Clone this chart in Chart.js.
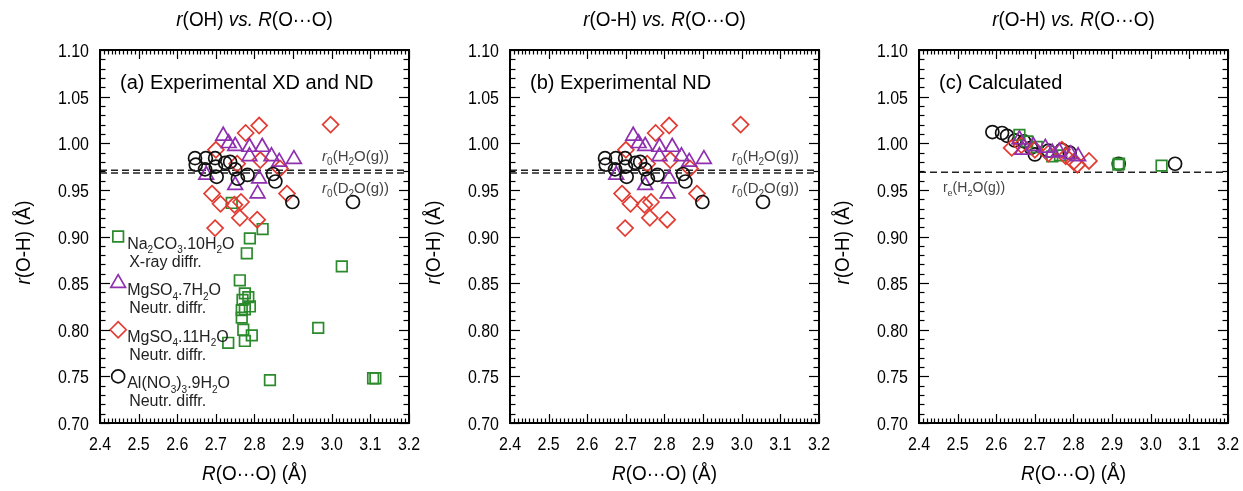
<!DOCTYPE html>
<html><head><meta charset="utf-8">
<script src="https://cdn.jsdelivr.net/npm/chart.js@4.4.0/dist/chart.umd.min.js"></script>
<style>
html,body{margin:0;padding:0;background:#fff;}
#wrap{position:relative;width:1243px;height:491px;overflow:hidden;background:#fff;}
canvas{position:absolute;top:0;}
</style></head><body>
<div id="wrap">
<canvas id="ca" width="425" height="491" style="left:0px"></canvas>
<canvas id="cb" width="425" height="491" style="left:410px"></canvas>
<canvas id="cc" width="424" height="491" style="left:819px"></canvas>
</div>
<script>
// ---------- data ----------
const xTicks = [2.4, 2.5, 2.6, 2.7, 2.8, 2.9, 3.0, 3.1, 3.2];
const yTicks = [0.70, 0.75, 0.80, 0.85, 0.90, 0.95, 1.00, 1.05, 1.10];

// Experimental: Na2CO3.10H2O (X-ray)
const naX = [2.741, 2.821, 2.788, 2.780, 3.026, 2.762, 2.775, 2.784, 2.769, 2.767, 2.788, 2.775, 2.767, 2.771, 2.793, 2.732, 2.775, 2.965, 2.840, 3.107, 3.113];
const naY = [0.936, 0.908, 0.898, 0.882, 0.868, 0.853, 0.839, 0.835, 0.832, 0.821, 0.825, 0.822, 0.813, 0.800, 0.794, 0.786, 0.788, 0.802, 0.746, 0.748, 0.748];
// Experimental: MgSO4.7H2O (neutron)
const mg7X = [2.719, 2.733, 2.750, 2.787, 2.820, 2.787, 2.844, 2.864, 2.902, 2.675, 2.750, 2.812, 2.808];
const mg7Y = [1.008, 1.000, 0.997, 0.996, 0.996, 0.986, 0.986, 0.980, 0.983, 0.966, 0.955, 0.962, 0.946];
// Experimental: MgSO4.11H2O (neutron)
const mg11X = [2.812, 2.777, 2.997, 2.700, 2.815, 2.866, 2.755, 2.690, 2.712, 2.748, 2.765, 2.884, 2.762, 2.807, 2.698];
const mg11Y = [1.019, 1.011, 1.020, 0.993, 0.982, 0.973, 0.978, 0.946, 0.935, 0.934, 0.937, 0.946, 0.920, 0.918, 0.909];
// Experimental: Al(NO3)3.9H2O (neutron)
const alX = [2.646, 2.674, 2.698, 2.737, 2.648, 2.672, 2.700, 2.724, 2.702, 2.750, 2.757, 2.782, 2.848, 2.854, 2.898, 3.055];
const alY = [0.984, 0.984, 0.984, 0.980, 0.977, 0.972, 0.975, 0.979, 0.964, 0.972, 0.962, 0.966, 0.967, 0.959, 0.937, 0.937];

// Calculated
const cNaX = [2.660, 2.680, 2.705, 2.745, 2.765, 2.916, 2.918, 3.028];
const cNaY = [1.009, 1.002, 0.996, 0.986, 0.987, 0.977, 0.978, 0.976];
const cMg7X = [2.660, 2.668, 2.696, 2.727, 2.745, 2.763, 2.793, 2.812];
const cMg7Y = [1.004, 0.993, 0.997, 0.995, 0.990, 0.991, 0.988, 0.986];
const cMg11X = [2.640, 2.665, 2.700, 2.735, 2.770, 2.780, 2.800, 2.810, 2.840];
const cMg11Y = [0.995, 0.998, 0.993, 0.989, 0.993, 0.986, 0.980, 0.977, 0.981];
const cAlX = [2.590, 2.615, 2.628, 2.648, 2.672, 2.690, 2.700, 2.735, 2.770, 2.790, 2.917, 3.063];
const cAlY = [1.012, 1.011, 1.008, 1.003, 1.002, 0.995, 0.988, 0.992, 0.993, 0.990, 0.978, 0.978];

// legend markers inside panel (a)
const legendX = [2.447];
const legendY = [0.90, 0.85, 0.80, 0.75];

// reference lines
const r0H2O = 0.971;
const r0D2O = 0.968;
const reH2O = 0.969;

// ---------- style ----------
const FF = "'Liberation Sans', Arial, sans-serif";
const GREEN = '#2b8a2b', PURPLE = '#8e2fb0', RED = '#e23b32', BLACK = '#111111';
Chart.defaults.font.family = FF;

function rich(ctx, segs, x, y, size, color, align, sx) {
  sx = sx || 1;
  const fonts = segs.map(([t, f]) => (f.includes('i') ? 'italic ' : '') + Math.round(f.includes('s') ? size * 0.65 : size) + 'px ' + FF);
  let w = 0; const ws = [];
  segs.forEach(([t], i) => { ctx.font = fonts[i]; const m = ctx.measureText(t).width; ws.push(m); w += m; });
  ctx.save();
  ctx.translate(x, y); ctx.scale(sx, 1);
  let cx = align === 'center' ? -w / 2 : align === 'right' ? -w : 0;
  ctx.fillStyle = color; ctx.textBaseline = 'alphabetic'; ctx.textAlign = 'left';
  segs.forEach(([t, f], i) => { ctx.font = fonts[i]; ctx.fillText(t, cx, (f.includes('s') ? size * 0.28 : 0)); cx += ws[i]; });
  ctx.restore();
}

const TITLE_A = [['r', 'i'], ['(OH) ', ''], ['vs.', 'i'], [' ', ''], ['R', 'i'], ['(O\u00B7\u00B7\u00B7O)', '']];
const TITLE_B = [['r', 'i'], ['(O-H) ', ''], ['vs.', 'i'], [' ', ''], ['R', 'i'], ['(O\u00B7\u00B7\u00B7O)', '']];
const XT = [['R', 'i'], ['(O\u00B7\u00B7\u00B7O) (\u00C5)', '']];
const YT = [['r', 'i'], ['(O-H) (\u00C5)', '']];
const R0H = [['r', 'i'], ['0', 's'], ['(H', ''], ['2', 's'], ['O(g))', '']];
const R0D = [['r', 'i'], ['0', 's'], ['(D', ''], ['2', 's'], ['O(g))', '']];
const REH = [['r', ''], ['e', 's'], ['(H', ''], ['2', 's'], ['O(g))', '']];
const LEG = [
  [[['Na', ''], ['2', 's'], ['CO', ''], ['3', 's'], ['.10H', ''], ['2', 's'], ['O', '']], [['X-ray diffr.', '']]],
  [[['MgSO', ''], ['4', 's'], ['.7H', ''], ['2', 's'], ['O', '']], [['Neutr. diffr.', '']]],
  [[['MgSO', ''], ['4', 's'], ['.11H', ''], ['2', 's'], ['O', '']], [['Neutr. diffr.', '']]],
  [[['Al(NO', ''], ['3', 's'], [')', ''], ['3', 's'], ['.9H', ''], ['2', 's'], ['O', '']], [['Neutr. diffr.', '']]]
];

const deco = {
  id: 'deco',
  afterDraw(chart, args, o) {
    const { ctx, chartArea: a, scales: { x, y } } = chart;
    ctx.save();
    // inward ticks on all four sides
    ctx.strokeStyle = '#000'; ctx.lineWidth = 1.2;
    const seg = (x1, y1, x2, y2) => { ctx.beginPath(); ctx.moveTo(x1, y1); ctx.lineTo(x2, y2); ctx.stroke(); };
    const nx = Math.round((x.max - x.min) / 0.01);
    for (let i = 0; i <= nx; i++) {
      const px = Math.round(x.getPixelForValue(x.min + i * 0.01)) + 0.5;
      const L = i % 10 === 0 ? 9 : 4.5;
      seg(px, a.bottom, px, a.bottom - L); seg(px, a.top, px, a.top + L);
    }
    const ny = Math.round((y.max - y.min) / 0.01);
    for (let i = 0; i <= ny; i++) {
      const py = Math.round(y.getPixelForValue(y.min + i * 0.01)) + 0.5;
      const L = i % 5 === 0 ? 10 : 5.5;
      seg(a.left, py, a.left + L, py); seg(a.right, py, a.right - L, py);
    }
    ctx.lineWidth = 2;
    ctx.strokeRect(a.left, a.top, a.right - a.left, a.bottom - a.top);
    // tick labels (narrow, as in the reference)
    x.ticks.forEach(t => rich(ctx, [[Number(t.value).toFixed(1), '']], x.getPixelForValue(t.value), a.bottom + 27, 19, '#000', 'center', 0.84));
    y.ticks.forEach(t => rich(ctx, [[Number(t.value).toFixed(2), '']], a.left - 11, y.getPixelForValue(t.value) + 7, 19, '#000', 'right', 0.84));
    // titles
    const cxm = (a.left + a.right) / 2;
    rich(ctx, o.title, cxm, 26, 21, '#000', 'center', 0.9);
    rich(ctx, XT, cxm, 480, 21, '#000', 'center', 0.9);
    ctx.save(); ctx.translate(30, (a.top + a.bottom) / 2 + 6); ctx.rotate(-Math.PI / 2);
    rich(ctx, YT, 0, 0, 21, '#000', 'center', 0.9); ctx.restore();
    rich(ctx, [[o.label, '']], a.left + 20, 89, 20, '#000', 'left');
    // reference line labels
    (o.lineLabels || []).forEach(l => {
      rich(ctx, l.segs, x.getPixelForValue(l.x), y.getPixelForValue(l.y) + l.dy, l.size, '#444', 'left');
    });
    // in-plot legend text
    if (o.legend) {
      const lx = x.getPixelForValue(legendX[0]);
      LEG.forEach((lines, i) => {
        const py = y.getPixelForValue(legendY[i]);
        rich(ctx, lines[0], lx + 9, py + 12, 16, '#222', 'left');
        rich(ctx, lines[1], lx + 11, py + 30, 16, '#222', 'left');
      });
    }
    ctx.restore();
  }
};

function pts(xs, ys) { return xs.map((v, i) => ({ x: v, y: ys[i] })); }
function mk(label, data, style, color, r, order) {
  return { label, data, pointStyle: style, pointRadius: r, borderColor: color, pointBorderColor: color,
    backgroundColor: 'rgba(0,0,0,0)', pointBackgroundColor: 'rgba(0,0,0,0)', borderWidth: 1.7, pointBorderWidth: 1.7,
    showLine: false, order, clip: 8 };
}
function hline(v, order) {
  return { label: 'ref', data: [{ x: xTicks[0], y: v }, { x: xTicks[xTicks.length - 1], y: v }], showLine: true,
    borderColor: '#222', borderWidth: 1.5, borderDash: [7, 4], pointRadius: 0, order };
}
function scales() {
  return {
    x: { type: 'linear', min: xTicks[0], max: xTicks[xTicks.length - 1], grid: { display: false, drawTicks: false }, border: { display: false },
      afterBuildTicks: s => { s.ticks = xTicks.map(v => ({ value: v })); },
      afterFit: s => { s.height = 68; },
      ticks: { display: false } },
    y: { type: 'linear', min: yTicks[0], max: yTicks[yTicks.length - 1], grid: { display: false, drawTicks: false }, border: { display: false },
      afterBuildTicks: s => { s.ticks = yTicks.map(v => ({ value: v })); },
      afterFit: s => { s.width = 100; },
      ticks: { display: false } }
  };
}
function make(id, W, datasets, decoOpts) {
  new Chart(document.getElementById(id), {
    type: 'scatter',
    data: { datasets },
    options: {
      responsive: false, animation: false, events: [], devicePixelRatio: 1,
      layout: { padding: { top: 50, left: 0, right: W - 409, bottom: 0 } },
      scales: scales(),
      plugins: { legend: { display: false }, tooltip: { enabled: false }, deco: decoOpts }
    },
    plugins: [deco]
  });
}

const expLabels = [
  { segs: R0H, x: 2.975, y: r0H2O, dy: -9, size: 15 },
  { segs: R0D, x: 2.975, y: r0D2O, dy: 20, size: 15 }
];

make('ca', 425, [
  mk('Al(NO3)3.9H2O', pts(alX, alY), 'circle', BLACK, 6.5, 1),
  mk('MgSO4.7H2O', pts(mg7X, mg7Y), 'triangle', PURPLE, 8.5, 2),
  mk('MgSO4.11H2O', pts(mg11X, mg11Y), 'rectRot', RED, 8, 3),
  mk('Na2CO3.10H2O', pts(naX, naY), 'rect', GREEN, 7.5, 4),
  mk('leg Na', pts(legendX, [legendY[0]]), 'rect', GREEN, 7.5, 4),
  mk('leg Mg7', pts(legendX, [legendY[1]]), 'triangle', PURPLE, 8.5, 2),
  mk('leg Mg11', pts(legendX, [legendY[2]]), 'rectRot', RED, 8, 3),
  mk('leg Al', pts(legendX, [legendY[3]]), 'circle', BLACK, 6.5, 1),
  hline(r0H2O, 9), hline(r0D2O, 9)
], { title: TITLE_A, label: '(a) Experimental XD and ND', legend: true, lineLabels: expLabels });

make('cb', 425, [
  mk('Al(NO3)3.9H2O', pts(alX, alY), 'circle', BLACK, 6.5, 1),
  mk('MgSO4.7H2O', pts(mg7X, mg7Y), 'triangle', PURPLE, 8.5, 2),
  mk('MgSO4.11H2O', pts(mg11X, mg11Y), 'rectRot', RED, 8, 3),
  hline(r0H2O, 9), hline(r0D2O, 9)
], { title: TITLE_B, label: '(b) Experimental ND', legend: false, lineLabels: expLabels });

make('cc', 424, [
  mk('MgSO4.7H2O', pts(cMg7X, cMg7Y), 'triangle', PURPLE, 8.5, 1),
  mk('MgSO4.11H2O', pts(cMg11X, cMg11Y), 'rectRot', RED, 8, 2),
  mk('Na2CO3.10H2O', pts(cNaX, cNaY), 'rect', GREEN, 7.5, 3),
  mk('Al(NO3)3.9H2O', pts(cAlX, cAlY), 'circle', BLACK, 6.5, 4),
  hline(reH2O, 9)
], { title: TITLE_B, label: '(c) Calculated', legend: false,
     lineLabels: [{ segs: REH, x: 2.462, y: reH2O, dy: 20, size: 14 }] });
</script>
</body></html>
